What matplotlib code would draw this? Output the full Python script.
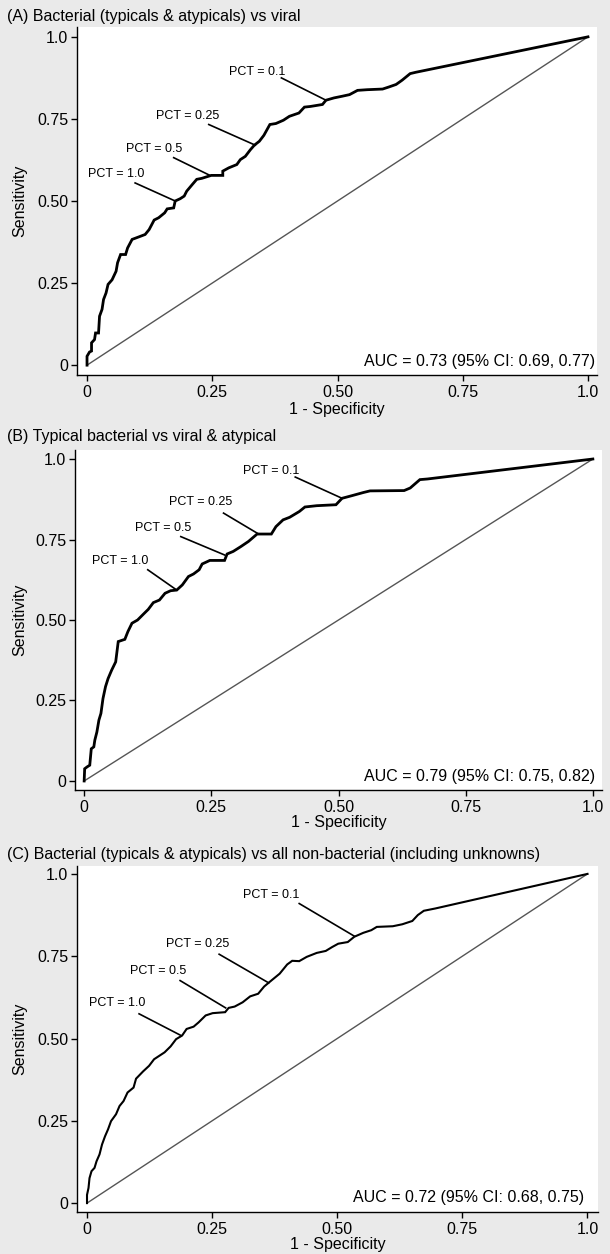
import matplotlib.pyplot as plt

plt.rcParams["font.family"] = ["Liberation Sans", "DejaVu Sans"]

# ROC curves (1 - specificity, sensitivity)
fpr_a = [0, 0, 0.005, 0.009, 0.009, 0.015, 0.017, 0.023, 0.025, 0.03, 0.033, 0.038, 0.042,
         0.05, 0.058, 0.061, 0.067, 0.077, 0.081, 0.09, 0.104, 0.116, 0.124, 0.134, 0.143,
         0.155, 0.16, 0.173, 0.176, 0.186, 0.194, 0.199, 0.21, 0.219, 0.229, 0.248, 0.271,
         0.271, 0.283, 0.299, 0.306, 0.316, 0.326, 0.334, 0.344, 0.353, 0.365, 0.377, 0.392,
         0.404, 0.423, 0.434, 0.446, 0.47, 0.477, 0.493, 0.509, 0.524, 0.54, 0.559, 0.59,
         0.602, 0.617, 0.629, 0.645, 0.656, 1.0]
tpr_a = [0, 0.027, 0.04, 0.043, 0.068, 0.078, 0.098, 0.098, 0.149, 0.17, 0.2, 0.22, 0.246,
         0.26, 0.286, 0.312, 0.337, 0.337, 0.357, 0.383, 0.391, 0.398, 0.413, 0.442, 0.449,
         0.464, 0.476, 0.479, 0.5, 0.507, 0.515, 0.53, 0.55, 0.566, 0.569, 0.578, 0.578,
         0.591, 0.601, 0.611, 0.626, 0.636, 0.656, 0.67, 0.682, 0.7, 0.733, 0.736, 0.746,
         0.758, 0.768, 0.786, 0.788, 0.794, 0.807, 0.814, 0.819, 0.824, 0.837, 0.839, 0.841,
         0.847, 0.855, 0.868, 0.888, 0.892, 1.0]

fpr_b = [0, 0.001, 0.006, 0.011, 0.014, 0.019, 0.021, 0.025, 0.029, 0.033, 0.037, 0.042,
         0.047, 0.054, 0.062, 0.067, 0.08, 0.086, 0.094, 0.105, 0.117, 0.126, 0.136, 0.148,
         0.159, 0.17, 0.182, 0.193, 0.205, 0.215, 0.226, 0.232, 0.247, 0.276, 0.281, 0.293,
         0.308, 0.323, 0.34, 0.368, 0.377, 0.391, 0.404, 0.423, 0.434, 0.457, 0.495, 0.507,
         0.526, 0.549, 0.562, 0.629, 0.641, 0.66, 0.675, 1.0]
tpr_b = [0, 0.038, 0.044, 0.049, 0.1, 0.106, 0.127, 0.152, 0.189, 0.21, 0.256, 0.293,
         0.318, 0.344, 0.37, 0.433, 0.44, 0.464, 0.49, 0.5, 0.519, 0.533, 0.554, 0.562,
         0.583, 0.591, 0.593, 0.609, 0.635, 0.643, 0.656, 0.674, 0.685, 0.685, 0.705, 0.713,
         0.728, 0.744, 0.767, 0.767, 0.79, 0.811, 0.819, 0.837, 0.851, 0.855, 0.858, 0.878,
         0.886, 0.896, 0.901, 0.902, 0.91, 0.936, 0.938, 1.0]

fpr_c = [0, 0, 0.003, 0.005, 0.009, 0.015, 0.019, 0.025, 0.03, 0.036, 0.042, 0.048, 0.058,
         0.065, 0.073, 0.081, 0.093, 0.098, 0.112, 0.124, 0.134, 0.145, 0.155, 0.167, 0.178,
         0.19, 0.199, 0.213, 0.223, 0.237, 0.251, 0.276, 0.283, 0.295, 0.311, 0.326, 0.342,
         0.354, 0.369, 0.385, 0.4, 0.41, 0.424, 0.439, 0.459, 0.477, 0.49, 0.502, 0.521,
         0.534, 0.552, 0.568, 0.579, 0.611, 0.63, 0.65, 0.661, 0.673, 0.696, 1.0]
tpr_c = [0, 0.025, 0.046, 0.076, 0.097, 0.107, 0.127, 0.148, 0.178, 0.203, 0.224, 0.249,
         0.27, 0.295, 0.31, 0.336, 0.351, 0.378, 0.4, 0.417, 0.437, 0.448, 0.458, 0.476,
         0.498, 0.509, 0.529, 0.536, 0.549, 0.57, 0.577, 0.58, 0.593, 0.597, 0.61, 0.628,
         0.636, 0.658, 0.677, 0.697, 0.725, 0.736, 0.735, 0.748, 0.76, 0.766, 0.778, 0.788,
         0.793, 0.809, 0.821, 0.829, 0.839, 0.841, 0.847, 0.857, 0.875, 0.888, 0.895, 1.0]

titles = ["(A) Bacterial (typicals & atypicals) vs viral",
          "(B) Typical bacterial vs viral & atypical",
          "(C) Bacterial (typicals & atypicals) vs all non-bacterial (including unknowns)"]
auc_text = ["AUC = 0.73 (95% CI: 0.69, 0.77)",
            "AUC = 0.79 (95% CI: 0.75, 0.82)",
            "AUC = 0.72 (95% CI: 0.68, 0.75)"]

pct_labels = ["PCT = 0.1", "PCT = 0.25", "PCT = 0.5", "PCT = 1.0"]
# label centre, start of leader line, point on the curve
pct_a = [((0.34, 0.894), (0.388, 0.875), (0.477, 0.807)),
         ((0.20, 0.760), (0.243, 0.733), (0.336, 0.670)),
         ((0.133, 0.657), (0.173, 0.632), (0.244, 0.579)),
         ((0.058, 0.581), (0.096, 0.555), (0.176, 0.500))]
pct_b = [((0.367, 0.964), (0.415, 0.944), (0.507, 0.878)),
         ((0.229, 0.865), (0.274, 0.832), (0.343, 0.767)),
         ((0.155, 0.785), (0.19, 0.759), (0.276, 0.702)),
         ((0.071, 0.682), (0.125, 0.656), (0.182, 0.593))]
pct_c = [((0.369, 0.936), (0.424, 0.910), (0.534, 0.811)),
         ((0.221, 0.788), (0.264, 0.756), (0.363, 0.669)),
         ((0.142, 0.705), (0.186, 0.676), (0.277, 0.593)),
         ((0.06, 0.607), (0.104, 0.575), (0.188, 0.509))]

ticks = [0, 0.25, 0.5, 0.75, 1.0]
tick_labels = ["0", "0.25", "0.50", "0.75", "1.0"]

W, H = 610, 1254
fig = plt.figure(figsize=(W / 100, H / 100), dpi=100)
fig.patch.set_facecolor("#eaeaea")

# panel boxes in pixels: left, right, top, bottom, plus axis limits
panels = [
    dict(box=(77, 597, 27, 375), xlim=(-0.020, 1.018), ylim=(-0.030, 1.030),
         fpr=fpr_a, tpr=tpr_a, pct=pct_a, lw=2.0, title_y=16, auc=(1.014, 0.012),
         xlab_y=409),
    dict(box=(75, 602, 450, 790), xlim=(-0.018, 1.018), ylim=(-0.028, 1.028),
         fpr=fpr_b, tpr=tpr_b, pct=pct_b, lw=2.0, title_y=437, auc=(1.004, 0.014),
         xlab_y=823),
    dict(box=(77, 598, 866, 1212), xlim=(-0.020, 1.021), ylim=(-0.027, 1.024),
         fpr=fpr_c, tpr=tpr_c, pct=pct_c, lw=1.5, title_y=854, auc=(0.993, 0.018),
         xlab_y=1245),
]

for i, p in enumerate(panels):
    l, r, t, b = p["box"]
    ax = fig.add_axes([l / W, 1 - b / H, (r - l) / W, (b - t) / H])
    ax.set_facecolor("white")
    ax.set_xlim(p["xlim"])
    ax.set_ylim(p["ylim"])
    for side in ["top", "right"]:
        ax.spines[side].set_visible(False)
    for side in ["left", "bottom"]:
        ax.spines[side].set_linewidth(1.0)

    # reference line and ROC curve
    ax.plot([0, 1], [0, 1], color="#555555", lw=1.0)
    ax.plot(p["fpr"], p["tpr"], color="black", lw=p["lw"], solid_joinstyle="miter")

    # PCT cut-off labels with leader lines
    for lab, (txt, start, end) in zip(pct_labels, p["pct"]):
        ax.text(txt[0], txt[1], lab, fontsize=9, ha="center", va="center")
        ax.plot([start[0], end[0]], [start[1], end[1]], color="black", lw=1.2)

    ax.text(p["auc"][0], p["auc"][1], auc_text[i], fontsize=11.5, ha="right", va="center")

    ax.set_xticks(ticks)
    ax.set_xticklabels(tick_labels)
    ax.set_yticks(ticks)
    ax.set_yticklabels(tick_labels)
    ax.tick_params(direction="out", length=4.3, width=1, labelsize=11.5)
    ax.tick_params(axis="x", pad=3)
    ax.tick_params(axis="y", pad=2)
    ax.set_xlabel("1 - Specificity", fontsize=11.5, va="center")
    ax.set_ylabel("Sensitivity", fontsize=11.5, va="center")
    ax.xaxis.set_label_coords(0.5, (b - p["xlab_y"]) / (b - t))
    ax.yaxis.set_label_coords((20 - l) / (r - l), 0.5)

    fig.text(7 / W, 1 - p["title_y"] / H, titles[i], fontsize=11.5, ha="left", va="center")

fig.savefig("out.png", dpi=100, facecolor=fig.get_facecolor())
